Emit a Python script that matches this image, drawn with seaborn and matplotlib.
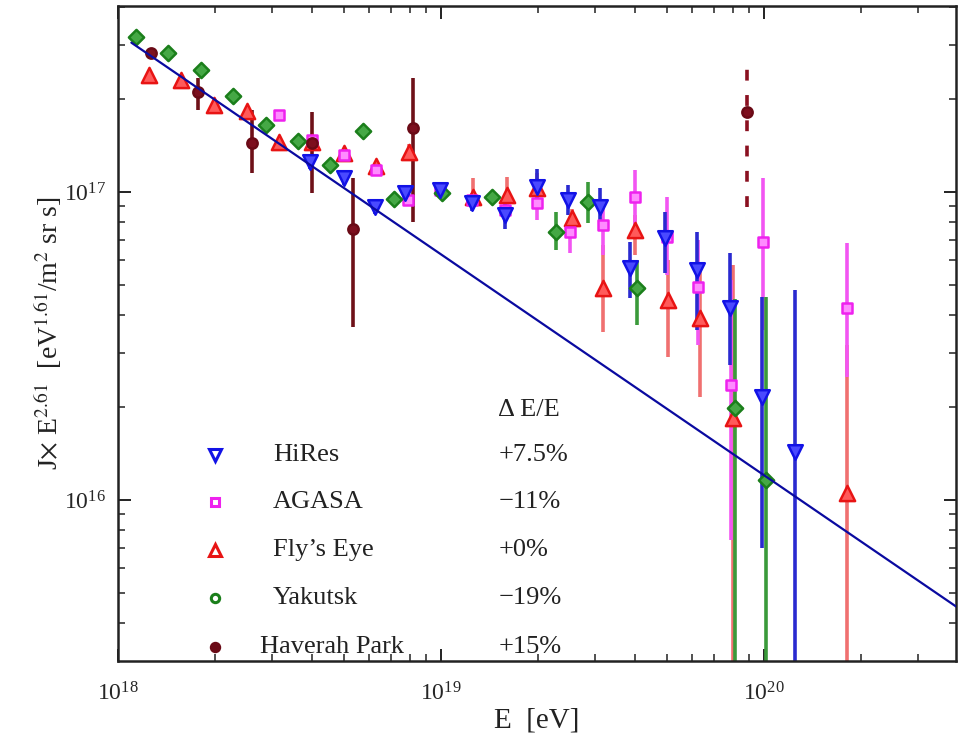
import numpy as np
import pandas as pd
import matplotlib
matplotlib.use("Agg")
import matplotlib.pyplot as plt
import seaborn as sns
from matplotlib.ticker import LogLocator, NullFormatter

# Units: energy in 1e18 eV, flux J*E^2.61 in 1e17 eV^1.61/(m^2 sr s)
E_UNIT = 1e18
J_UNIT = 1e17

experiments = ["HiRes", "AGASA", "Fly\u2019s Eye", "Yakutsk", "Haverah Park"]
shifts = ["+7.5%", "\u221211%", "+0%", "\u221219%", "+15%"]

hires_E = [3.93, 5.01, 6.25, 7.74, 9.93, 12.5, 15.8, 19.8, 24.7, 31.1, 38.5, 49.4, 62.1, 78.5, 98.6, 124.7]
hires_J = [1.25, 1.11, 0.894, 0.993, 1.015, 0.921, 0.842, 1.04, 0.942, 0.894, 0.567, 0.709, 0.558, 0.420, 0.216, 0.143]
hires_lo = [1.19, 1.05, 0.85, 0.94, 0.96, 0.87, 0.76, 0.91, 0.842, 0.764, 0.453, 0.546, 0.356, 0.274, 0.070, 0.001]
hires_hi = [1.31, 1.17, 0.94, 1.05, 1.07, 0.98, 0.94, 1.19, 1.054, 1.03, 0.688, 0.861, 0.742, 0.634, 0.456, 0.481]

agasa_E = [3.15, 3.99, 5.01, 6.29, 7.9, 9.93, 12.5, 15.8, 19.8, 25.1, 31.7, 39.9, 50.1, 62.5, 79.0, 99.3, 180.7]
agasa_J = [1.78, 1.48, 1.32, 1.18, 0.942, 1.015, 0.942, 0.874, 0.921, 0.742, 0.781, 0.963, 0.714, 0.492, 0.236, 0.688, 0.420]
agasa_lo = [1.74, 1.44, 1.28, 1.14, 0.91, 0.98, 0.90, 0.80, 0.811, 0.634, 0.624, 0.781, 0.538, 0.318, 0.074, 0.356, 0.25]
agasa_hi = [1.82, 1.52, 1.36, 1.22, 0.98, 1.05, 0.99, 0.95, 1.054, 0.83, 0.907, 1.179, 0.963, 0.698, 0.518, 1.11, 0.683]

flys_E = [1.247, 1.567, 1.98, 2.51, 3.15, 3.99, 5.01, 6.29, 7.96, 12.6, 16.0, 19.8, 25.4, 31.7, 39.9, 50.5, 63.4, 80.2, 180.7]
flys_J = [2.40, 2.31, 1.92, 1.83, 1.45, 1.45, 1.34, 1.214, 1.35, 0.963, 0.978, 1.03, 0.823, 0.488, 0.753, 0.446, 0.390, 0.185, 0.105]
flys_lo = [2.33, 2.24, 1.86, 1.77, 1.40, 1.40, 1.29, 1.17, 1.28, 0.907, 0.887, 0.96, 0.77, 0.351, 0.624, 0.291, 0.216, 0.001, 0.001]
flys_hi = [2.47, 2.38, 1.98, 1.89, 1.50, 1.50, 1.39, 1.26, 1.43, 1.11, 1.12, 1.15, 0.88, 0.673, 0.842, 0.601, 0.558, 0.58, 0.318]

yakutsk_E = [1.137, 1.428, 1.807, 2.27, 2.87, 3.61, 4.53, 5.74, 7.15, 10.07, 14.38, 22.7, 28.5, 40.4, 81.3, 101.4]
yakutsk_J = [3.19, 2.83, 2.49, 2.05, 1.65, 1.46, 1.224, 1.58, 0.949, 0.993, 0.963, 0.742, 0.928, 0.488, 0.199, 0.116]
yakutsk_lo = [3.12, 2.77, 2.44, 2.01, 1.62, 1.43, 1.20, 1.54, 0.92, 0.96, 0.93, 0.648, 0.793, 0.370, 0.001, 0.001]
yakutsk_hi = [3.26, 2.89, 2.54, 2.09, 1.68, 1.49, 1.25, 1.62, 0.98, 1.03, 1.00, 0.861, 1.078, 0.601, 0.45, 0.456]

haverah_E = [1.265, 1.77, 2.60, 3.99, 5.34, 8.19, 88.6]
haverah_J = [2.83, 2.11, 1.44, 1.44, 0.758, 1.61, 1.82]
haverah_lo = [2.78, 1.84, 1.15, 0.993, 0.364, 0.80, 0.894]
haverah_hi = [2.88, 2.34, 1.85, 1.82, 1.11, 2.34, 2.62]
haverah_dashed = [False, False, False, False, False, False, True]

# reference power law drawn through the low-energy data
fit_norm = 3.27   # at 1e18 eV, in J_UNIT
fit_index = -0.717
fit_Emin, fit_Emax = 1.1, 400.0

series = {
    "HiRes": (hires_E, hires_J, hires_lo, hires_hi, None),
    "AGASA": (agasa_E, agasa_J, agasa_lo, agasa_hi, None),
    "Fly\u2019s Eye": (flys_E, flys_J, flys_lo, flys_hi, None),
    "Yakutsk": (yakutsk_E, yakutsk_J, yakutsk_lo, yakutsk_hi, None),
    "Haverah Park": (haverah_E, haverah_J, haverah_lo, haverah_hi, haverah_dashed),
}
rows = []
for name, (E, J, lo, hi, dsh) in series.items():
    for i in range(len(E)):
        rows.append(dict(exp=name, E=E[i] * E_UNIT, J=J[i] * J_UNIT,
                         lo=lo[i] * J_UNIT, hi=hi[i] * J_UNIT,
                         dashed=bool(dsh[i]) if dsh else False))
df = pd.DataFrame(rows)

style = {
    "HiRes":        dict(marker="v", s=110, face="#4a4aff", edge="#1212e6", err="#2a2ad0"),
    "AGASA":        dict(marker="s", s=55,  face="#ff8cff", edge="#ee22ee", err="#f255f2"),
    "Fly\u2019s Eye": dict(marker="^", s=120, face="#ff5a5a", edge="#e81414", err="#f07070"),
    "Yakutsk":      dict(marker="D", s=60,  face="#45a845", edge="#1b7f1b", err="#3a9a3a"),
    "Haverah Park": dict(marker="o", s=55,  face="#7d0f1e", edge="#6a0a16", err="#6e1018"),
}
draw_order = ["Fly\u2019s Eye", "AGASA", "Yakutsk", "HiRes", "Haverah Park"]

sns.set_theme(style="ticks")
plt.rcParams["font.family"] = ["Liberation Serif", "DejaVu Serif"]
plt.rcParams["mathtext.fontset"] = "stix"

fig = plt.figure(figsize=(9.58, 7.41), dpi=100)
ax = fig.add_axes([118 / 958, 80 / 741, 838 / 958, 655 / 741])
ax.set_xscale("log")
ax.set_yscale("log")

for name in draw_order:
    st = style[name]
    sub = df[df.exp == name]
    solid = sub[~sub.dashed]
    ax.vlines(solid.E, solid.lo, solid.hi, color=st["err"], lw=2.6, zorder=2)
    dsub = sub[sub.dashed]
    if len(dsub):
        ax.vlines(dsub.E, dsub.lo, dsub.hi, color="#8a1020", lw=2.6,
                  linestyles=(0, (3, 4)), zorder=2)

for name in draw_order:
    st = style[name]
    sub = df[df.exp == name]
    sns.scatterplot(data=sub, x="E", y="J", marker=st["marker"], s=st["s"],
                    color=st["face"], edgecolor=st["edge"], linewidth=1.8,
                    ax=ax, legend=False, zorder=3)

E_line = np.geomspace(fit_Emin, fit_Emax, 60)
line_df = pd.DataFrame({"E": E_line * E_UNIT,
                        "J": fit_norm * E_line ** fit_index * J_UNIT})
sns.lineplot(data=line_df, x="E", y="J", color="#0a0aa0", lw=1.6, ax=ax,
             zorder=4, sort=False)

ax.set_xlim(1e18, 10 ** (18 + 838 / 323))
ax.set_ylim(10 ** (16 - 161 / 308), 10 ** (17 + 186 / 308))

ax.xaxis.set_major_locator(LogLocator(base=10, numticks=12))
ax.xaxis.set_minor_locator(LogLocator(base=10, subs=np.arange(2, 10), numticks=12))
ax.yaxis.set_major_locator(LogLocator(base=10, numticks=12))
ax.yaxis.set_minor_locator(LogLocator(base=10, subs=np.arange(2, 10), numticks=12))
ax.xaxis.set_minor_formatter(NullFormatter())
ax.yaxis.set_minor_formatter(NullFormatter())
ax.tick_params(which="both", direction="in", top=True, right=True,
               color="#222222", labelsize=17)
ax.tick_params(which="major", length=9, width=1.4)
ax.tick_params(axis="x", which="major", pad=15)
ax.tick_params(axis="y", which="major", pad=9)
ax.tick_params(which="minor", length=5, width=1.1)
for sp in ax.spines.values():
    sp.set_linewidth(1.8)
    sp.set_color("#222222")

ax.set_xlabel("E  [eV]", fontsize=21, labelpad=2, color="#222222")
ax.set_ylabel(r"J$\times$ E$^{2.61}$  [eV$^{1.61}$/m$^{2}$ sr s]",
              fontsize=20, labelpad=0, color="#222222")

# legend block
rows_y = [0.3145, 0.243, 0.1695, 0.096, 0.021]
leg_ms = {"HiRes": 8, "AGASA": 6, "Fly\u2019s Eye": 8, "Yakutsk": 6, "Haverah Park": 6}
leg_mk = {"HiRes": "v", "AGASA": "s", "Fly\u2019s Eye": "^", "Yakutsk": "o", "Haverah Park": "o"}
for name, shift, yy in zip(experiments, shifts, rows_y):
    st = style[name]
    face = st["edge"] if name == "Haverah Park" else "white"
    ax.plot([0.116], [yy], transform=ax.transAxes, marker=leg_mk[name],
            ms=leg_ms[name], mfc=face, mec=st["edge"], mew=2.2, ls="none",
            zorder=5)
    xname = 0.170 if name == "Haverah Park" else 0.185
    ax.text(xname, yy, name, transform=ax.transAxes, fontsize=19,
            va="center", ha="left", color="#222222")
    ax.text(0.454, yy, shift, transform=ax.transAxes, fontsize=19,
            va="center", ha="left", color="#222222")
ax.text(0.454, 0.383, "\u0394 E/E", transform=ax.transAxes, fontsize=19,
        va="center", ha="left", color="#222222")

fig.savefig("out.png", dpi=100)
